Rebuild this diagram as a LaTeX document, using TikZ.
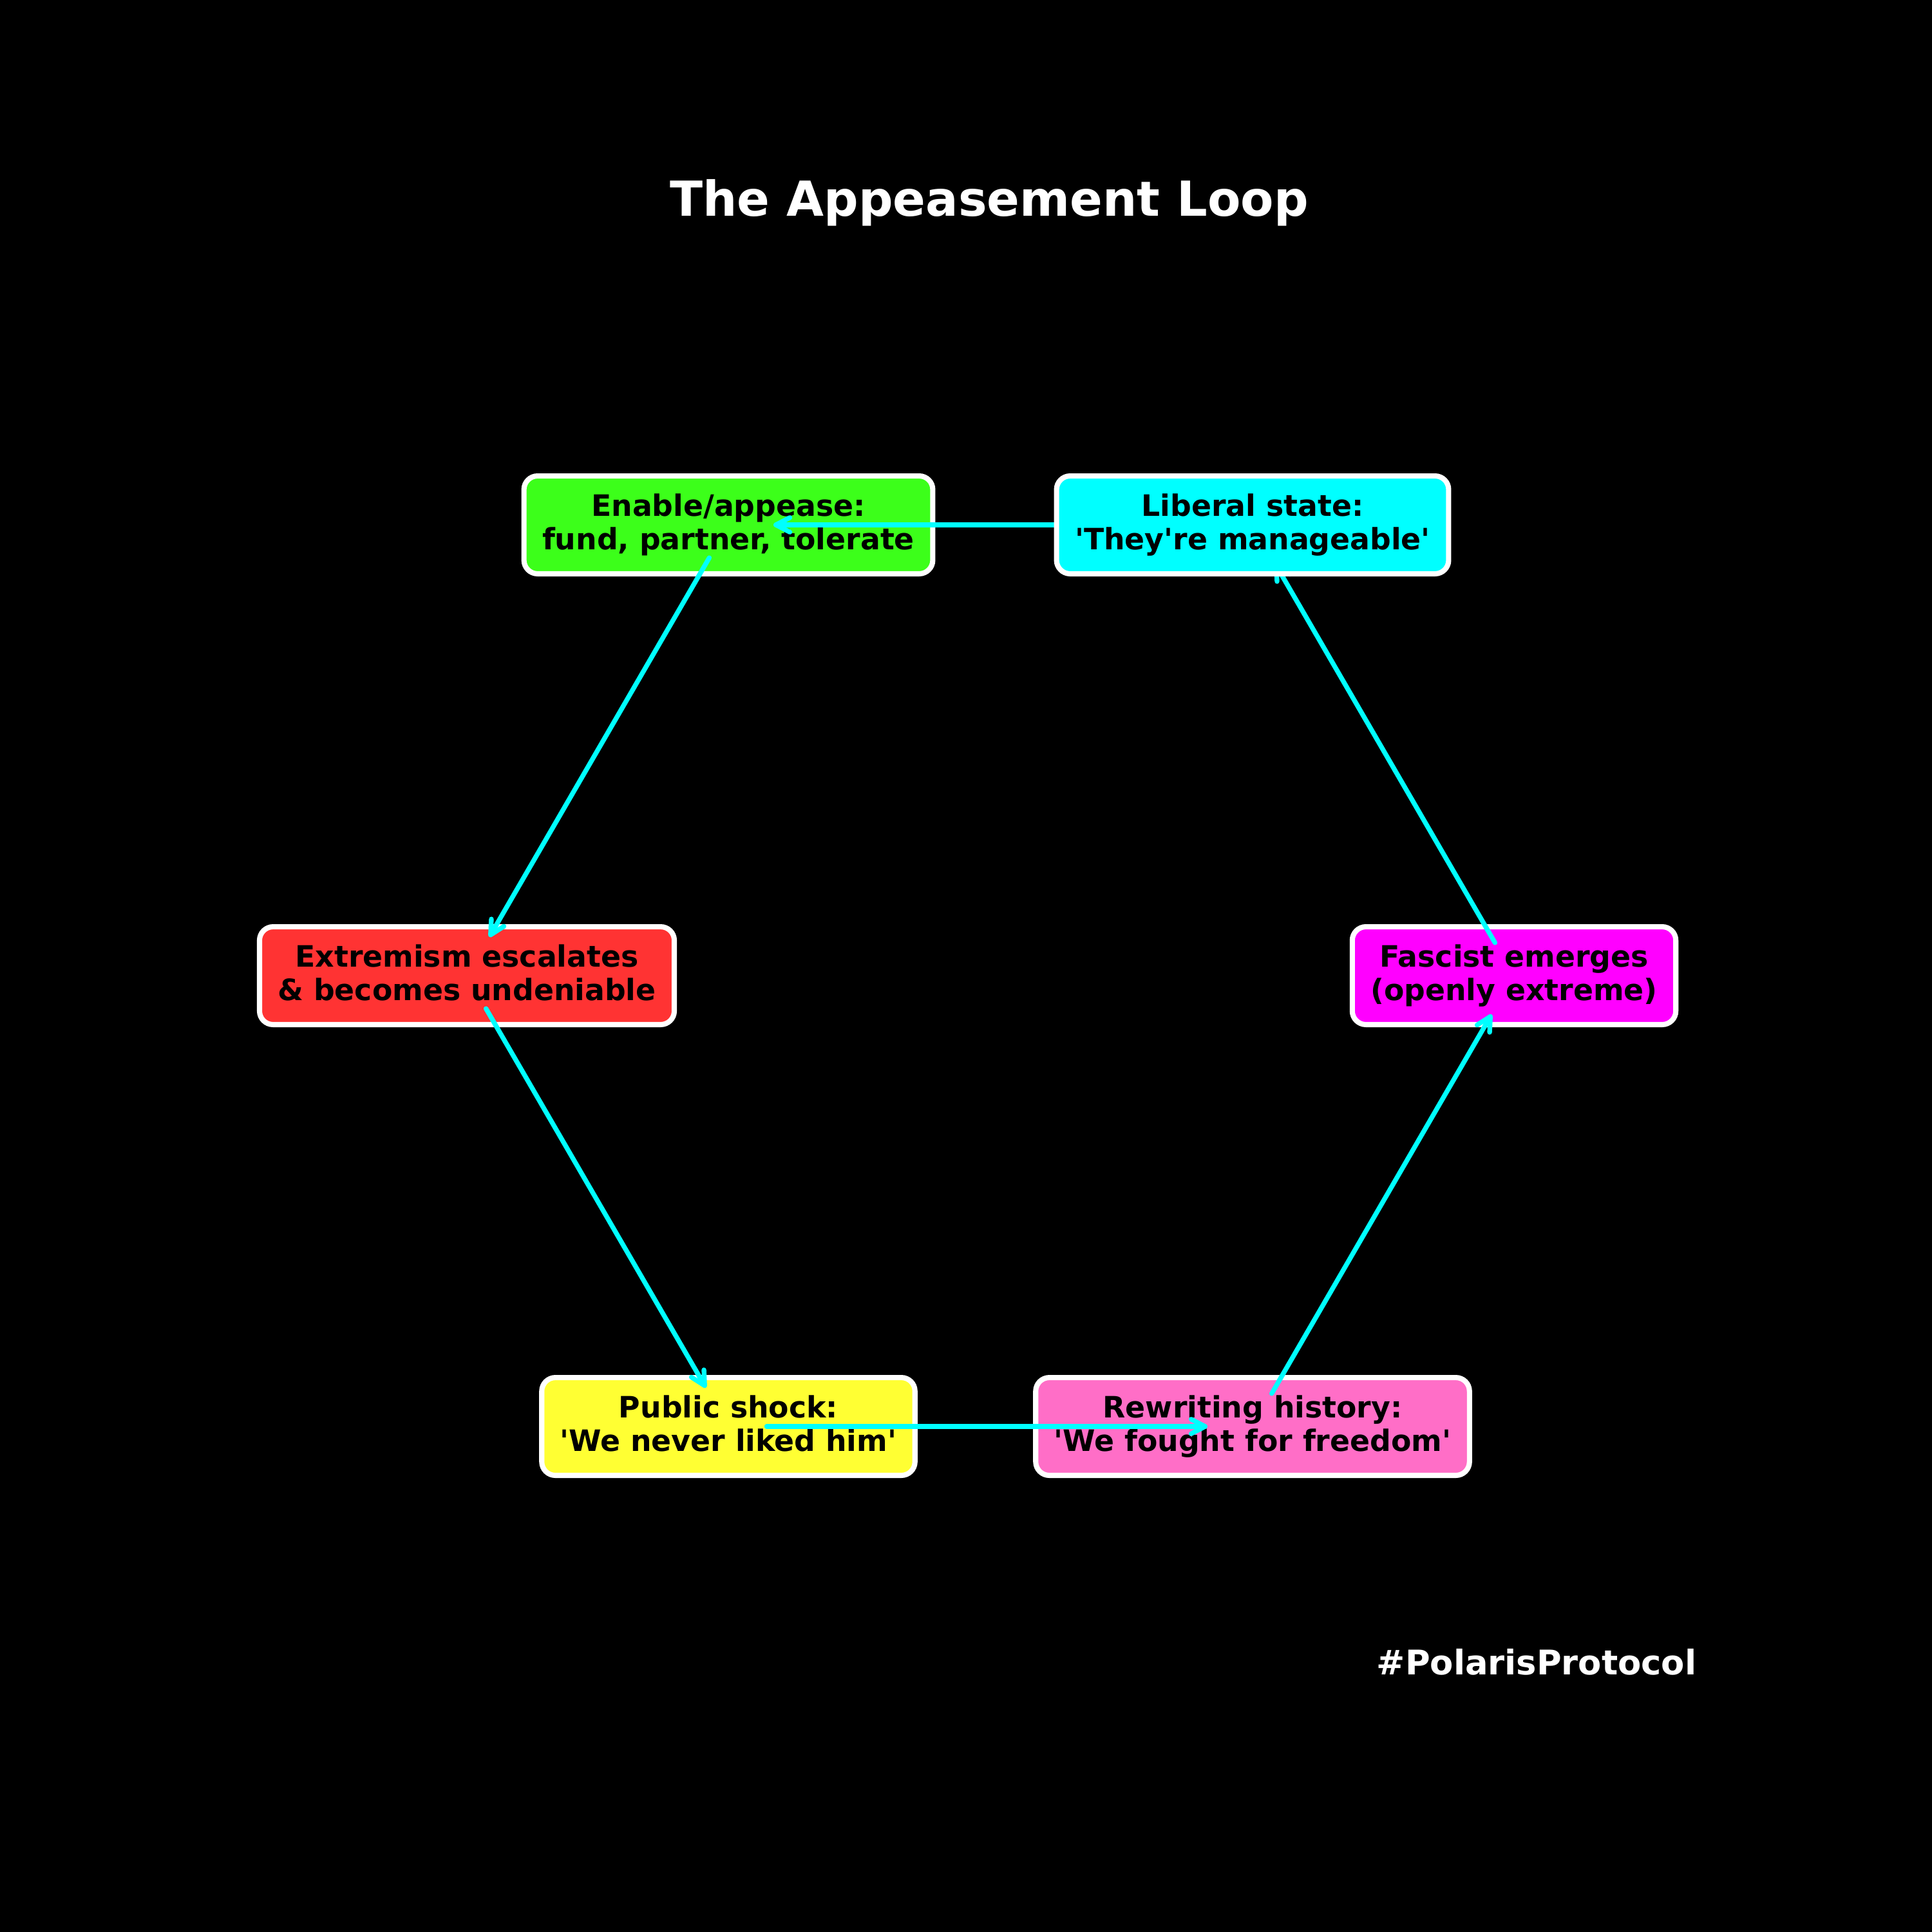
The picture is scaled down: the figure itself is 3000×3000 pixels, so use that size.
\documentclass[tikz,border=0pt]{standalone}
\usepackage{fontspec}
\setmainfont{DejaVu Sans}
\usetikzlibrary{arrows.meta,calc}
\pgfdeclarelayer{base}
\pgfdeclarelayer{links}
\pgfsetlayers{base,links,main}
\definecolor{stgreen}{HTML}{3CFF1A}
\definecolor{stcyan}{HTML}{00FFFF}
\definecolor{stred}{HTML}{FF3333}
\definecolor{stmagenta}{HTML}{FF00FF}
\definecolor{styellow}{HTML}{FFFF33}
\definecolor{stpink}{HTML}{FF6EC7}
\definecolor{linkcyan}{HTML}{00FFFF}
% fixed line height so every two-line label sits the same way in its box
\newcommand\bxstrut{\rule[-3.1pt]{0pt}{13.3pt}}
% straight apostrophe
\newcommand\sq{\textquotesingle}
\begin{document}
\begin{tikzpicture}[x=0.01cm,y=-0.01cm,
  stage/.style={draw=white, line width=2.3pt, rounded corners=6pt,
    inner xsep=8.1pt, inner ysep=7.6pt, align=center, text=black,
    font=\fontsize{13pt}{14.7pt}\selectfont\bfseries},
  link/.style={draw=linkcyan, line width=2.1pt, line cap=round,
    -{Straight Barb[length=6.2pt,width=6.4pt,round]}},
  heading/.style={text=white, anchor=base, inner sep=0pt}
]
\begin{pgfonlayer}{base}
  \fill[black] (0,0) rectangle (3000,3000);
  \useasboundingbox (0,0) rectangle (3000,3000);
  \node[stage, fill=stmagenta] (fascist) at (2351,1515)
    {\bxstrut Fascist emerges\\\bxstrut (openly extreme)};
  \node[stage, fill=stgreen] (enable) at (1131,815)
    {\bxstrut Enable/appease:\\\bxstrut fund, partner, tolerate};
  \node[stage, fill=stred] (extreme) at (725,1515)
    {\bxstrut Extremism escalates\\\bxstrut \& becomes undeniable};
  \node[stage, fill=styellow] (shock) at (1131,2215)
    {\bxstrut Public shock:\\\bxstrut \sq We never liked him\sq};
  \node[stage, fill=stpink] (rewrite) at (1945,2215)
    {\bxstrut Rewriting history:\\\bxstrut \sq We fought for freedom\sq};
\end{pgfonlayer}

\node[stage, fill=stcyan] (liberal) at (1945,815)
  {\bxstrut Liberal state:\\\bxstrut \sq They\sq re manageable\sq};

\begin{pgfonlayer}{links}
  \foreach \a/\b in {fascist/liberal, liberal/enable, enable/extreme,
                     extreme/shock, shock/rewrite, rewrite/fascist}
    \draw[link] ($(\a)!0.073!(\b)$) -- ($(\a)!0.914!(\b)$);
\end{pgfonlayer}

\node[heading, font=\fontsize{21.3pt}{25pt}\selectfont\bfseries] (title)
  at (1536,335) {The Appeasement Loop};
\node[heading, font=\fontsize{15pt}{18pt}\selectfont\bfseries] (tag)
  at (2386,2600) {\#PolarisProtocol};
\end{tikzpicture}
\end{document}
